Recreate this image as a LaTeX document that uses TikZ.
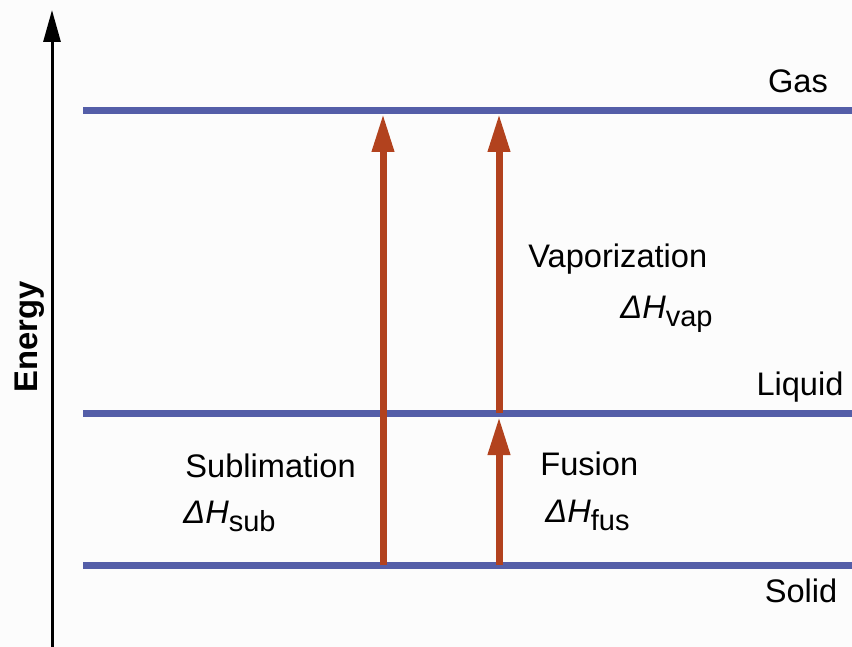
\documentclass[tikz,border=0pt]{standalone}
\usepackage{fontspec}
\setmainfont{Liberation Sans}
\usetikzlibrary{arrows.meta}
\definecolor{levelBlue}{RGB}{84,94,168}
\definecolor{rust}{RGB}{178,66,30}
\definecolor{paper}{RGB}{252,252,252}
\newcommand{\dH}[1]{{\itshape ΔH}\raisebox{-4pt}{\fontsize{14.5}{16}\selectfont #1}}

\begin{document}
\begin{tikzpicture}[x=0.5pt,y=-0.5pt,
  every node/.style={inner sep=0pt,font=\fontsize{16.3}{18}\selectfont},
  level/.style={draw=levelBlue,line width=3.5pt},
  axis/.style={-{Triangle[length=16pt,width=8.5pt]},line width=1.5pt},
  arr/.style={-{Triangle[length=19pt,width=10.5pt]},line width=3.5pt,draw=rust},
  lbl/.style={anchor=base west}]
\fill[paper] (0,0) rectangle (852,647);
\useasboundingbox (0,0) rectangle (852,647);
% energy levels
\coordinate (gasL) at (83,111);
\coordinate (gasR) at (852,111);
\coordinate (liqL) at (83,413);
\coordinate (liqR) at (852,413);
\coordinate (solL) at (83,565);
\coordinate (solR) at (852,565);
\draw[level] (gasL) -- (gasR);
\draw[level] (liqL) -- (liqR);
\draw[level] (solL) -- (solR);
\node[anchor=base] (gas) at (798,93) {Gas};
\node[anchor=base] (liq) at (800,395) {Liquid};
\node[anchor=base] (sol) at (801,602) {Solid};
% energy axis
\coordinate (eBot) at (52,647);
\coordinate (eTop) at (52,10);
\draw[axis] (eBot) -- (eTop);
\node[font=\fontsize{16.4}{18}\selectfont\bfseries,rotate=90,anchor=base] (energy) at (38,337) {Energy};
% transitions
\coordinate (subA) at (383,565);
\coordinate (subB) at (383,114);
\coordinate (vapA) at (499,413);
\coordinate (vapB) at (499,114);
\coordinate (fusA) at (499,565);
\coordinate (fusB) at (499,417);
\draw[arr] (subA) -- (subB);
\draw[arr] (vapA) -- (vapB);
\draw[arr] (fusA) -- (fusB);
\node[lbl] (vap) at (528,267) {Vaporization};
\node[lbl] (dvap) at (620,318) {\dH{vap}};
\node[lbl] (sub) at (185,477) {Sublimation};
\node[lbl] (dsub) at (183,523) {\dH{sub}};
\node[lbl] (fus) at (540,475) {Fusion};
\node[lbl] (dfus) at (545,522) {\dH{fus}};
\end{tikzpicture}
\end{document}
